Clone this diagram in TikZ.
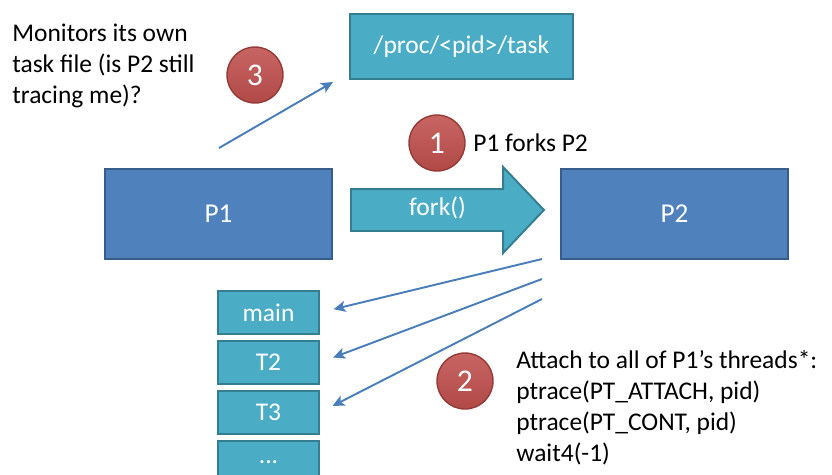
\documentclass[tikz,border=0pt]{standalone}
\usepackage{fontspec}
\setmainfont{Carlito}
\usetikzlibrary{shapes.geometric, shapes.arrows, arrows.meta, positioning}
\definecolor{procblue}{HTML}{4F81BD}
\definecolor{procedge}{HTML}{385D8A}
\definecolor{taskcyan}{HTML}{4BACC6}
\definecolor{taskedge}{HTML}{357D91}
\definecolor{stepred}{HTML}{C0504D}
\definecolor{stepedge}{HTML}{943A37}
\definecolor{linkblue}{HTML}{4A7EBB}

\begin{document}
\begin{tikzpicture}[x=0.02cm, y=-0.02cm, node distance=0.1cm,
  procbox/.style={rectangle, draw=procedge, fill=procblue, line width=1.1pt, minimum width=4.54cm, minimum height=1.8cm, text=white, font=\fontsize{15.5}{18}\selectfont},
  taskbox/.style={rectangle, draw=taskedge, fill=taskcyan, line width=1.1pt, text=white, font=\fontsize{14.5}{17.6}\selectfont},
  threadbox/.style={taskbox, minimum width=2.02cm, minimum height=0.86cm},
  stepdot/.style={circle, draw=stepedge, top color=stepred!88!white, bottom color=stepred!92!black, line width=0.8pt, minimum size=1.12cm, inner sep=0pt, text=white, font=\fontsize{18}{20}\selectfont},
  note/.style={inner sep=0pt, align=left, font=\fontsize{14.5}{17.6}\selectfont},
  link/.style={-{Stealth[length=2.4mm, width=2.2mm, inset=0.6mm]}, draw=linkblue, line width=1.1pt}]
\useasboundingbox (0,0) rectangle (832,474);

% processes
\node[procbox] (p1) at (218.5,214) {P1};
\node[procbox] (p2) at (674.5,214) {P2};
\node[taskbox, minimum width=4.46cm, minimum height=1.3cm] (proc) at (461.5,46.5) {/proc/<pid>/task};
\node[single arrow, draw=taskedge, fill=taskcyan, line width=1.1pt, text=white, font=\fontsize{14.5}{17.6}\selectfont,
  minimum height=3.86cm, text height=0.3cm, text depth=0.1cm, inner ysep=0.2cm,
  single arrow head extend=0.44cm, single arrow tip angle=93, anchor=tail] (fork) at (350,210) {fork()};

% threads of P1
\node[threadbox] (main) at (268.5,312.5) {main};
\node[threadbox, below=of main] (t2) {T2};
\node[threadbox, below=of t2] (t3) {T3};
\node[threadbox, below=of t3] (tdots) {...};

% steps
\node[stepdot] (c3) at (255,75) {3};
\node[stepdot] (c1) at (437,143) {1};
\node[stepdot] (c2) at (465,381) {2};

\node[note, anchor=west] (forknote) at (473,143) {P1 forks P2};
\node[note, anchor=north west] (watchnote) at (12,24) {Monitors its own\\task file (is P2 still\\tracing me)?};
\node[note, anchor=north west] (attachnote) at (516,350) {Attach to all of P1’s threads*:\\ptrace(PT\_ATTACH, pid)\\ptrace(PT\_CONT, pid)\\wait4(-1)};

% connectors
\coordinate (watch) at (219,148);
\coordinate (watchend) at (333,82);
\draw[link] (watch) -- (watchend);

\coordinate (a1) at (542,259);
\coordinate (a2) at (542,279);
\coordinate (a3) at (542,299);
\draw[link, shorten >=0.28cm] (a1) -- (main.east);
\draw[link, shorten >=0.28cm] (a2) -- (t2.east);
\draw[link, shorten >=0.28cm] (a3) -- (t3.east);
\end{tikzpicture}
\end{document}
